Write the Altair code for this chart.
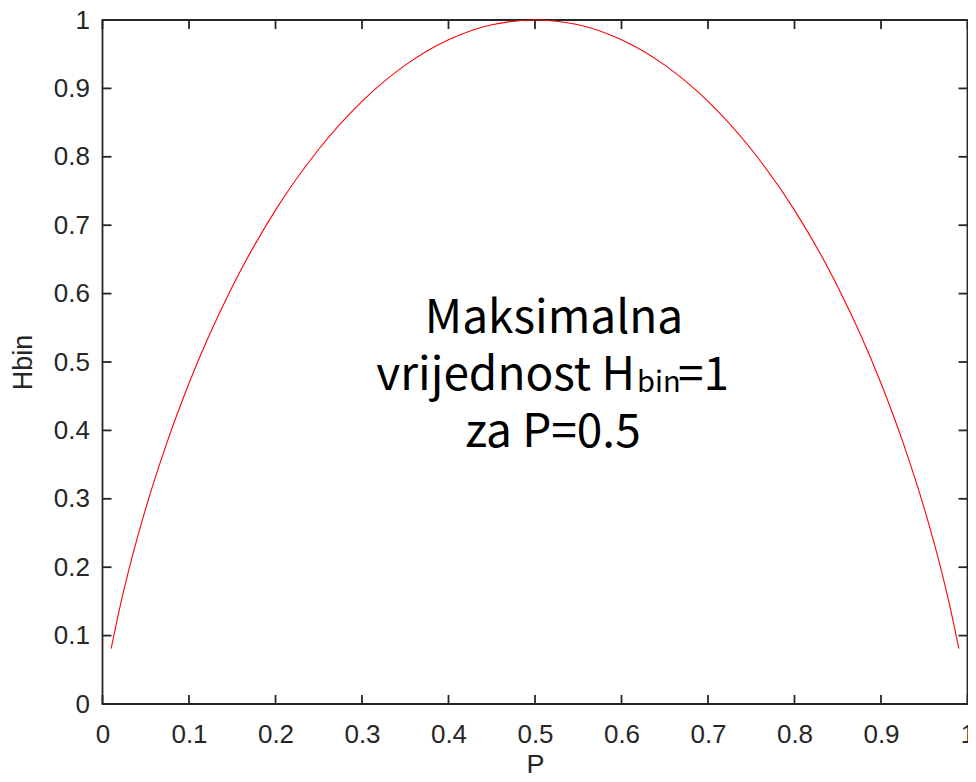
import altair as alt
import pandas as pd

# Binary entropy curve
p_vals = [0.01, 0.02, 0.03, 0.05, 0.075, 0.10, 0.15, 0.20, 0.25, 0.30, 0.35, 0.40, 0.45, 0.50,
          0.55, 0.60, 0.65, 0.70, 0.75, 0.80, 0.85, 0.90, 0.925, 0.95, 0.97, 0.98, 0.99]
h_vals = [0.081, 0.141, 0.194, 0.286, 0.384, 0.469, 0.610, 0.722, 0.811, 0.881, 0.934, 0.971, 0.993, 1.0,
          0.993, 0.971, 0.934, 0.881, 0.811, 0.722, 0.610, 0.469, 0.384, 0.286, 0.194, 0.141, 0.081]

x_ticks = [0, 0.1, 0.2, 0.3, 0.4, 0.5, 0.6, 0.7, 0.8, 0.9, 1]
y_ticks = [0, 0.1, 0.2, 0.3, 0.4, 0.5, 0.6, 0.7, 0.8, 0.9, 1]

ann_text = ["Maksimalna", "vrijednost H", "bin", "=1", "za P=0.5"]
ann_x = [0.522, 0.6156, 0.6179, 0.6653, 0.5208]
ann_y = [0.5424, 0.459, 0.456, 0.459, 0.3757]

W, H = 865, 684
AX = "#262626"

df = pd.DataFrame({"P": p_vals, "Hbin": h_vals})
tx = pd.DataFrame({"t": x_ticks})
ty = pd.DataFrame({"t": y_ticks})

xs = alt.Scale(domain=[0, 1], nice=False, zero=False)
ys = alt.Scale(domain=[0, 1], nice=False, zero=False)

label_expr = "datum.value == 0 ? '0' : datum.value == 1 ? '1' : format(datum.value, '.1f')"

x_axis = alt.Axis(values=x_ticks, labelExpr=label_expr, ticks=False, tickSize=0, domain=False,
                  grid=False, labelBaseline="alphabetic", labelPadding=38,
                  labelFontSize=26, labelColor=AX, labelFont="Liberation Sans",
                  titleFontSize=27, titleFont="Liberation Sans", titleColor=AX,
                  titleFontWeight="normal", titleBaseline="alphabetic", titleY=69,
                  labelFlush=False)
y_axis = alt.Axis(values=y_ticks, labelExpr=label_expr, ticks=False, tickSize=0, domain=False,
                  grid=False, labelPadding=13, labelFontSize=26, labelColor=AX,
                  labelFont="Liberation Sans",
                  titleFontSize=27, titleFont="Liberation Sans", titleColor=AX,
                  titleFontWeight="normal", titlePadding=16, labelFlush=False)

def X(field):
    return alt.X(field, type="quantitative", scale=xs, axis=x_axis, title="P")

def Y(field):
    return alt.Y(field, type="quantitative", scale=ys, axis=y_axis, title="Hbin")

line = alt.Chart(df).mark_line(color="#ff0000", strokeWidth=1.1, interpolate="monotone").encode(
    x=X("P"), y=Y("Hbin"))

bottom_ticks = alt.Chart(tx).mark_rule(color=AX, strokeWidth=1.8).encode(
    x=X("t"), y=alt.value(H), y2=alt.value(H - 9))
top_ticks = alt.Chart(tx).mark_rule(color=AX, strokeWidth=1.8).encode(
    x=X("t"), y=alt.value(0), y2=alt.value(9))
left_ticks = alt.Chart(ty).mark_rule(color=AX, strokeWidth=1.8).encode(
    y=Y("t"), x=alt.value(0), x2=alt.value(9))
right_ticks = alt.Chart(ty).mark_rule(color=AX, strokeWidth=1.8).encode(
    y=Y("t"), x=alt.value(W), x2=alt.value(W - 9))

ann = pd.DataFrame({"text": ann_text, "x": ann_x, "y": ann_y,
                    "size": [46, 46, 29, 46, 46],
                    "align": ["center", "right", "left", "left", "center"]})

def txt(i):
    return alt.Chart(ann.iloc[[i]]).mark_text(
        font="Noto Sans CJK JP", fontSize=int(ann["size"][i]), align=ann["align"][i],
        baseline="alphabetic", color="#000000").encode(
        x=X("x"), y=Y("y"), text="text:N")

chart = alt.layer(line, bottom_ticks, top_ticks, left_ticks, right_ticks,
                  *[txt(i) for i in range(len(ann_text))]).properties(
    width=W, height=H,
    background="white",
    autosize=alt.AutoSizeParams(type="none"),
    padding={"left": 94.5, "top": 12, "right": 0.5, "bottom": 69},
).configure_view(stroke=AX, strokeWidth=1.8)

chart.save("out.html", embed_options={"renderer": "svg", "actions": False})
